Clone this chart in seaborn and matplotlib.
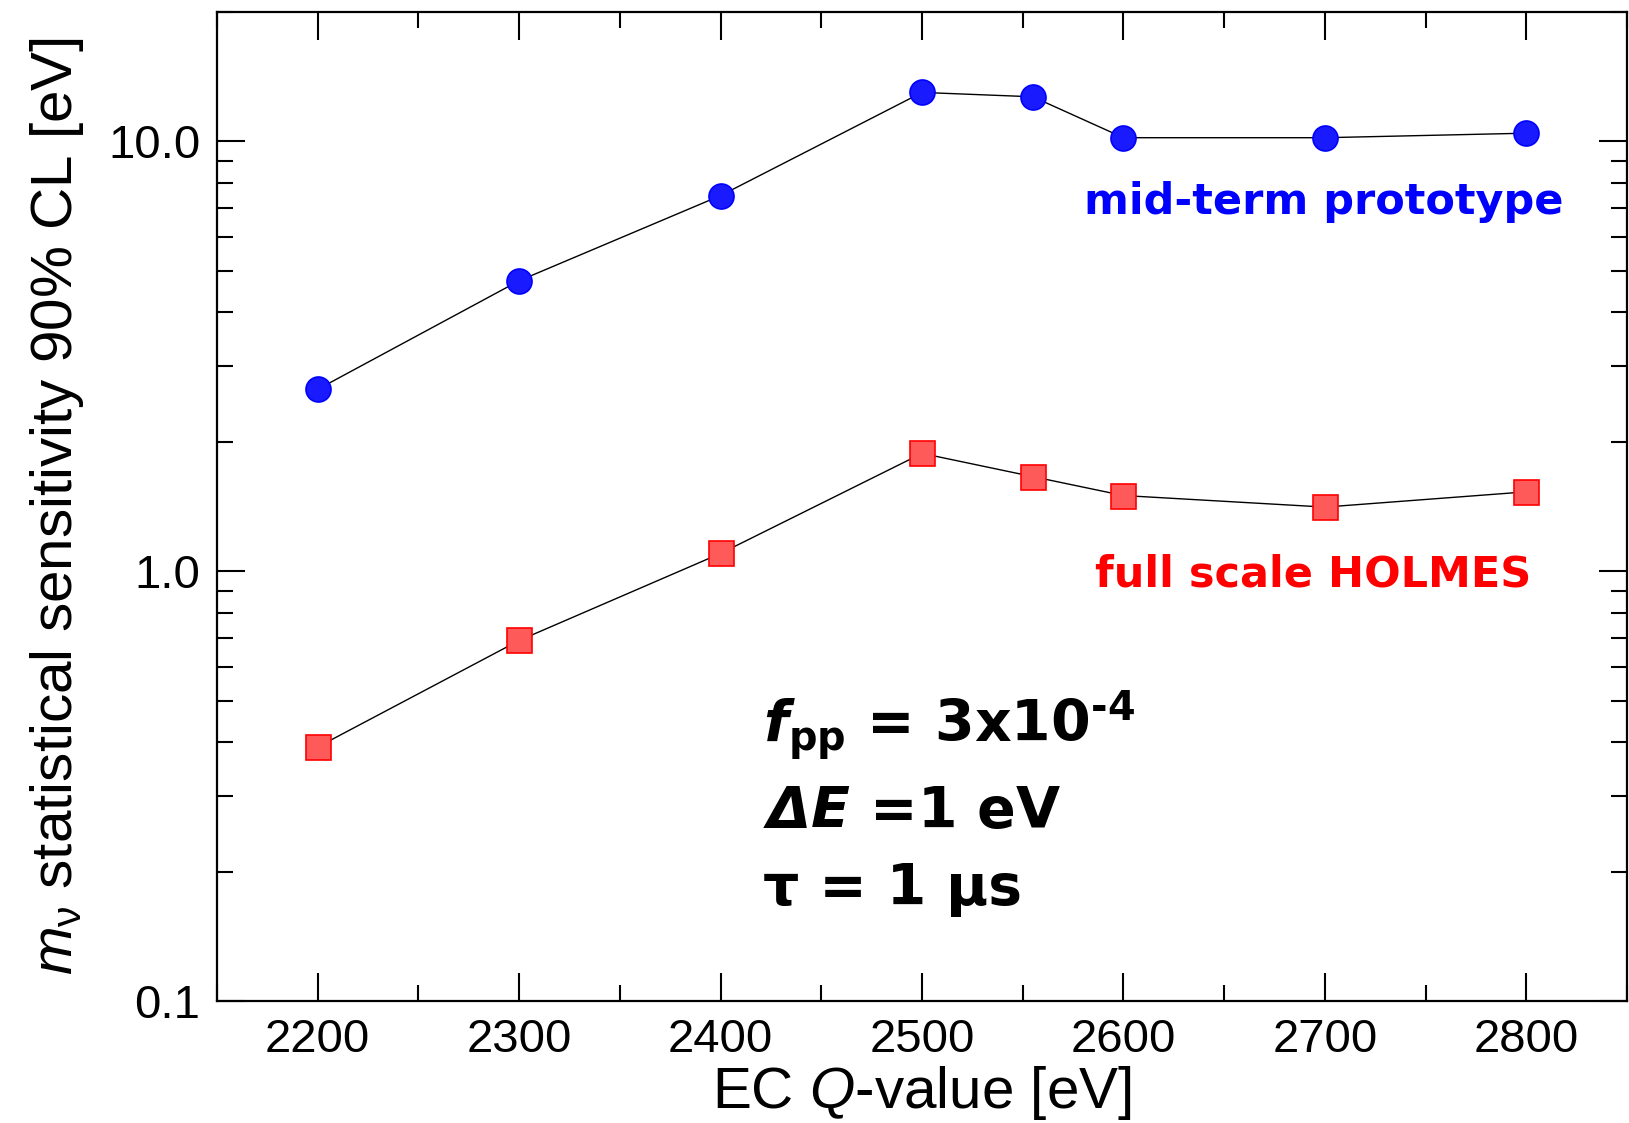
import matplotlib
matplotlib.use("Agg")
import matplotlib.pyplot as plt
import matplotlib.ticker as mticker
import seaborn as sns
import pandas as pd

# ---- data ----
q_values = [2200, 2300, 2400, 2500, 2555, 2600, 2700, 2800]
mid_term = [2.65, 4.74, 7.48, 13.0, 12.7, 10.2, 10.2, 10.45]
full_scale = [0.39, 0.69, 1.10, 1.88, 1.66, 1.50, 1.41, 1.53]
x_ticks = [2200, 2300, 2400, 2500, 2600, 2700, 2800]
y_ticks = [0.1, 1.0, 10.0]
y_tick_labels = ["0.1", "1.0", "10.0"]
label_mid = "mid-term prototype"
label_full = "full scale HOLMES"

sns.set_style("ticks")
plt.rcParams["font.family"] = ["Liberation Sans", "DejaVu Sans"]
plt.rcParams["text.color"] = "black"
plt.rcParams["axes.labelcolor"] = "black"
plt.rcParams["xtick.color"] = "black"
plt.rcParams["ytick.color"] = "black"
plt.rcParams["mathtext.fontset"] = "custom"
plt.rcParams["mathtext.rm"] = "Liberation Sans"
plt.rcParams["mathtext.it"] = "Liberation Sans:italic"
plt.rcParams["mathtext.sf"] = "Liberation Sans"
plt.rcParams["mathtext.bf"] = "DejaVu Sans:bold"
plt.rcParams["mathtext.bfit"] = "DejaVu Sans:italic:bold"

df_mid = pd.DataFrame({"q": q_values, "s": mid_term})
df_full = pd.DataFrame({"q": q_values, "s": full_scale})

fig = plt.figure(figsize=(16.29, 11.23), dpi=100)
ax = fig.add_axes([0.1332, 0.1086, 0.8656, 0.8807])

sns.lineplot(data=df_mid, x="q", y="s", ax=ax, color="black", linewidth=1.0,
             marker="o", markersize=18, markerfacecolor="#1a1aff",
             markeredgecolor="#0000ff", markeredgewidth=1.2)
sns.lineplot(data=df_full, x="q", y="s", ax=ax, color="black", linewidth=1.0,
             marker="s", markersize=18, markerfacecolor="#ff5a5a",
             markeredgecolor="#ff0000", markeredgewidth=1.2)

ax.set_yscale("log")
ax.set_xlim(2150, 2850)
ax.set_ylim(0.1, 20)
ax.set_xticks(x_ticks)
ax.set_xticklabels([str(v) for v in x_ticks])
ax.xaxis.set_minor_locator(mticker.MultipleLocator(50))
ax.set_yticks(y_ticks)
ax.set_yticklabels(y_tick_labels)
ax.yaxis.set_minor_locator(mticker.LogLocator(base=10, subs=range(2, 10)))
ax.yaxis.set_minor_formatter(mticker.NullFormatter())

ax.tick_params(which="both", direction="in", top=True, right=True,
               width=1.5, colors="black", labelcolor="black")
ax.tick_params(which="major", length=20, labelsize=34, pad=12)
ax.tick_params(which="minor", length=11.5)
for sp in ax.spines.values():
    sp.set_visible(True)
    sp.set_linewidth(1.6)
    sp.set_color("black")

ax.set_xlabel(r"EC $Q$-value [eV]", fontsize=42, labelpad=2, color="black")
ax.set_ylabel(r"$m_{\mathrm{\nu}}$ statistical sensitivity 90% CL [eV]",
              fontsize=42, labelpad=16, color="black")

ax.text(0.955, 0.808, label_mid, transform=ax.transAxes, ha="right", va="center",
        color="#0000ff", fontsize=31, fontweight="bold", family="DejaVu Sans")
ax.text(0.932, 0.431, label_full, transform=ax.transAxes, ha="right", va="center",
        color="#ff0000", fontsize=31, fontweight="bold", family="DejaVu Sans")

tx = 0.387
ax.text(tx, 0.262, "$\\mathbfit{f}_{\\mathbf{pp}}$ = 3x10$^{\\mathbf{\u2010}\\mathbf{4}}$",
        transform=ax.transAxes, ha="left", va="baseline", fontsize=41,
        fontweight="bold", family="DejaVu Sans", color="black")
ax.text(tx, 0.175, r"$\mathbfit{\Delta E}$ =1 eV",
        transform=ax.transAxes, ha="left", va="baseline", fontsize=41,
        fontweight="bold", family="DejaVu Sans", color="black")
ax.text(tx, 0.097, "τ = 1 μs",
        transform=ax.transAxes, ha="left", va="baseline", fontsize=41,
        fontweight="bold", family="DejaVu Sans", color="black")

fig.savefig("out.png", dpi=100)
